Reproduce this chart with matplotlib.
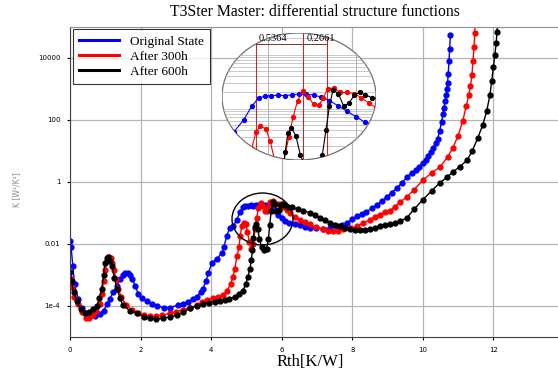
import numpy as np
import matplotlib
matplotlib.use('Agg')
import matplotlib.pyplot as plt
from matplotlib.patches import Ellipse
from matplotlib.lines import Line2D
from matplotlib.ticker import NullLocator

# values; y given as log10 exponents
blue_x = [0.0, 0.03, 0.08, 0.13, 0.23, 0.33, 0.42, 0.55, 0.71, 0.85, 0.95, 1.05, 1.13, 1.23, 1.33,
          1.42, 1.5, 1.56, 1.64, 1.7, 1.76, 1.85, 1.93, 2.05, 2.18, 2.32, 2.46, 2.65, 2.83, 3.06,
          3.2, 3.34, 3.48, 3.6, 3.7, 3.77, 3.85, 3.92, 4.02, 4.16, 4.3, 4.36, 4.44, 4.53, 4.62,
          4.73, 4.82, 4.9, 4.97, 5.04, 5.12, 5.2, 5.28, 5.36, 5.44, 5.52, 5.6, 5.7, 5.8, 5.9,
          6.0, 6.1, 6.2, 6.37, 6.52, 6.66, 6.8, 6.98, 7.17, 7.36, 7.56, 7.7, 7.85, 8.0, 8.13,
          8.27, 8.4, 8.55, 8.7, 8.84, 8.98, 9.12, 9.26, 9.4, 9.55, 9.68, 9.8, 9.9, 10.0, 10.08,
          10.15, 10.22, 10.3, 10.36, 10.42, 10.48, 10.53, 10.57, 10.6, 10.63, 10.66, 10.68, 10.7,
          10.72, 10.74, 10.76, 10.78]
blue_exp = [-1.9, -2.1, -2.7, -3.3, -3.76, -4.05, -4.24, -4.33, -4.33, -4.25, -4.15, -3.95, -3.76,
            -3.55, -3.34, -3.12, -3.0, -2.93, -2.93, -3.0, -3.12, -3.35, -3.6, -3.75, -3.85, -3.95,
            -4.0, -4.05, -4.05, -3.97, -3.92, -3.86, -3.78, -3.7, -3.55, -3.44, -3.2, -2.95, -2.6,
            -2.48, -2.3, -2.1, -1.75, -1.47, -1.43, -1.21, -0.96, -0.8, -0.77, -0.76, -0.75, -0.76,
            -0.74, -0.73, -0.73, -0.75, -0.78, -0.85, -0.95, -1.05, -1.15, -1.25, -1.31, -1.37,
            -1.4, -1.44, -1.47, -1.49, -1.5, -1.48, -1.43, -1.38, -1.31, -1.2, -1.11, -1.04, -0.96,
            -0.85, -0.73, -0.61, -0.48, -0.34, -0.2, -0.03, 0.16, 0.3, 0.4, 0.5, 0.6, 0.72, 0.85,
            0.97, 1.1, 1.25, 1.4, 1.66, 1.95, 2.2, 2.4, 2.6, 2.8, 3.0, 3.2, 3.5, 3.9, 4.3, 4.75]

red_x = [0.0, 0.05, 0.12, 0.22, 0.33, 0.45, 0.55, 0.65, 0.75, 0.85, 0.9, 0.95, 1.0, 1.05, 1.1,
         1.15, 1.2, 1.25, 1.3, 1.37, 1.45, 1.6, 1.75, 1.93, 2.1, 2.27, 2.45, 2.62, 2.83, 3.0,
         3.2, 3.4, 3.6, 3.75, 3.88, 4.05, 4.2, 4.33, 4.45, 4.55, 4.62, 4.67, 4.73, 4.79, 4.82,
         4.87, 4.92, 4.98, 5.03, 5.08, 5.13, 5.18, 5.24, 5.29, 5.34, 5.4, 5.46, 5.52, 5.58, 5.63,
         5.68, 5.75, 5.82, 5.9, 5.98, 6.06, 6.15, 6.23, 6.37, 6.52, 6.66, 6.8, 6.98, 7.17, 7.3,
         7.45, 7.6, 7.73, 7.93, 8.13, 8.3, 8.5, 8.65, 8.78, 8.92, 9.07, 9.2, 9.35, 9.55, 9.75,
         10.0, 10.25, 10.48, 10.7, 10.85, 11.0, 11.13, 11.23, 11.3, 11.35, 11.39, 11.42, 11.45,
         11.47, 11.49]
red_exp = [-3.1, -3.4, -3.7, -3.95, -4.2, -4.38, -4.4, -4.3, -4.15, -3.95, -3.6, -3.2, -2.85, -2.55,
           -2.43, -2.45, -2.6, -2.85, -3.12, -3.45, -3.7, -3.98, -4.12, -4.24, -4.3, -4.33, -4.33,
           -4.3, -4.24, -4.18, -4.12, -4.05, -3.98, -3.88, -3.8, -3.75, -3.72, -3.66, -3.5, -3.3,
           -3.05, -2.8, -2.4, -2.1, -1.75, -1.43, -1.33, -1.37, -1.6, -1.95, -2.15, -2.0, -1.53,
           -1.15, -0.85, -0.68, -0.78, -0.92, -0.94, -0.8, -0.63, -0.62, -0.7, -0.7, -0.72, -0.8,
           -0.9, -0.99, -1.12, -1.21, -1.3, -1.37, -1.46, -1.53, -1.57, -1.59, -1.57, -1.53, -1.48,
           -1.43, -1.33, -1.21, -1.12, -1.05, -0.97, -0.92, -0.8, -0.65, -0.48, -0.25, 0.06, 0.3,
           0.48, 0.8, 1.1, 1.5, 1.97, 2.45, 2.8, 3.1, 3.45, 3.9, 4.35, 4.8, 5.2]

black_x = [0.0, 0.05, 0.1, 0.2, 0.3, 0.42, 0.55, 0.66, 0.76, 0.83, 0.9, 0.95, 0.99, 1.04, 1.08,
           1.13, 1.19, 1.26, 1.33, 1.42, 1.5, 1.7, 1.9, 2.1, 2.27, 2.45, 2.63, 2.83, 3.03, 3.2,
           3.4, 3.6, 3.77, 3.95, 4.1, 4.25, 4.39, 4.52, 4.67, 4.8, 4.9, 4.98, 5.04, 5.1, 5.14,
           5.17, 5.2, 5.23, 5.27, 5.32, 5.37, 5.43, 5.5, 5.57, 5.62, 5.66, 5.7, 5.74, 5.8, 5.86,
           5.92, 5.98, 6.04, 6.1, 6.18, 6.3, 6.45, 6.6, 6.8, 6.95, 7.08, 7.22, 7.37, 7.5, 7.65,
           7.8, 7.93, 8.08, 8.22, 8.36, 8.5, 8.65, 8.78, 8.92, 9.07, 9.2, 9.35, 9.55, 9.75, 10.0,
           10.25, 10.48, 10.68, 10.85, 11.05, 11.25, 11.4, 11.56, 11.7, 11.81, 11.9, 11.95, 12.0,
           12.04, 12.08, 12.1, 12.12]
black_exp = [-2.9, -3.2, -3.54, -3.85, -4.1, -4.24, -4.2, -4.1, -4.0, -3.75, -3.44, -3.0, -2.6,
             -2.45, -2.43, -2.55, -2.72, -3.1, -3.44, -3.75, -3.98, -4.15, -4.24, -4.35, -4.4,
             -4.42, -4.4, -4.35, -4.3, -4.2, -4.08, -4.0, -3.95, -3.9, -3.86, -3.84, -3.82, -3.77,
             -3.7, -3.6, -3.5, -3.3, -3.06, -2.8, -2.5, -2.2, -1.8, -1.45, -1.35, -1.5, -1.85, -2.1,
             -2.2, -2.15, -1.85, -1.4, -0.95, -0.65, -0.72, -0.95, -0.9, -0.75, -0.7, -0.74, -0.8,
             -0.82, -0.87, -0.93, -0.99, -1.07, -1.15, -1.23, -1.31, -1.38, -1.43, -1.49, -1.53,
             -1.55, -1.56, -1.55, -1.53, -1.48, -1.43, -1.4, -1.37, -1.32, -1.27, -1.15, -0.88,
             -0.57, -0.28, -0.03, 0.15, 0.32, 0.5, 0.7, 1.0, 1.43, 1.85, 2.29, 2.8, 3.25, 3.7, 4.1,
             4.5, 4.84, 5.2]

labels = ['Original State', 'After 300h', 'After 600h']
colors = ['#0000ff', '#ff0000', '#000000']
xticks = [0, 2, 4, 6, 8, 10, 12]
yticks = [1e-4, 1e-2, 1, 1e2, 1e4]
ytick_labels = ['1e-4', '0.01', '1', '100', '10000']
gaps = [0.5364, 0.2661]
gap_start = 4.87

series = [(blue_x, blue_exp), (red_x, red_exp), (black_x, black_exp)]

fig = plt.figure(figsize=(5.58, 3.76), dpi=100)
ax = fig.add_axes([70/558, 39/376, 494/558, 310/376])

for (xs, es), c, lab in zip(series, colors, labels):
    ax.plot(xs, 10.0 ** np.array(es), color=c, lw=1.0, marker='o', ms=3.5, label=lab)

ax.set_yscale('log')
ax.set_xlim(0, 14)
ax.set_ylim(1e-5, 1e5)
ax.set_xticks(xticks)
ax.set_yticks(yticks, ytick_labels)
ax.yaxis.set_minor_locator(NullLocator())
ax.grid(color='#b4b4b4', lw=0.9)
ax.set_axisbelow(True)
ax.tick_params(labelsize=5, length=2, pad=5)
ax.spines['right'].set_visible(False)
ax.spines['top'].set_color('#909090')
ax.spines['left'].set_color('#404040')
ax.spines['bottom'].set_color('#404040')

handles = [Line2D([], [], color=c, lw=2.2) for c in colors]
leg = ax.legend(handles, labels, loc='upper left', bbox_to_anchor=(0.003, 0.997),
                prop={'family': 'Liberation Serif', 'size': 9.5}, frameon=True, fancybox=False,
                edgecolor='black', handlelength=3.0, borderaxespad=0.1, labelspacing=0.2,
                borderpad=0.5)
leg.get_frame().set_linewidth(0.8)

ax.add_patch(Ellipse((0.3897, 0.3806), 0.1235, 0.1677, transform=ax.transAxes,
                     fill=False, ec='black', lw=1.0, zorder=6))

fig.text(315/558, 1 - 12/376, 'T3Ster Master: differential structure functions',
         ha='center', va='center', family='Liberation Serif', fontsize=11.3)
fig.text(310/558, 1 - 362/376, 'Rth[K/W]', ha='center', va='center',
         family='Liberation Serif', fontsize=12)
fig.text(17/558, 1 - 190/376, 'K [W²/K²]', ha='center', va='center', rotation=90,
         color='#8a8a8a', fontsize=5.5)

# magnified view inside the ellipse
ins = fig.add_axes([222/558, 1 - 160/376, 154/558, 127/376])
ins.axis('off')
ins.set_yscale('log')
x0 = gap_start - (256 - 222) / 88.5
x1 = gap_start + (376 - 256) / 88.5
ins.set_xlim(x0, x1)
ins.set_ylim(10 ** -1.95, 10 ** 0.4)
bg = Ellipse((0.5, 0.5), 1.0, 1.0, transform=ins.transAxes, fc='white', ec='#707070', lw=0.9,
             zorder=0)
ins.add_patch(bg)

grid_y = [m * 10.0 ** d for d in (-2, -1, 0) for m in range(1, 10)]
for gy in grid_y:
    ln = ins.axhline(gy, color='#c0c0c0', lw=0.6, zorder=1)
    ln.set_clip_path(bg)
for gx in (5, 6):
    ln = ins.axvline(gx, color='#b0b0b0', lw=0.7, zorder=1)
    ln.set_clip_path(bg)

marks = [gap_start, gap_start + gaps[0], gap_start + gaps[0] + gaps[1]]
for mx in marks:
    ln = ins.axvline(mx, color='#b03030', lw=0.8, zorder=2)
    ln.set_clip_path(bg)

for (xs, es), c in zip(series, colors):
    ln, = ins.plot(xs, 10.0 ** np.array(es), color=c, lw=0.8, marker='o', ms=2.8, zorder=3)
    ln.set_clip_path(bg)

top_y = 10 ** 0.2
ins.plot([marks[0], marks[2]], [top_y, top_y], color='#803030', lw=0.7, zorder=4)
for i, g in enumerate(gaps):
    ins.text(marks[i] + 0.03, 10 ** 0.22, f'{g:.4f}', ha='left', va='bottom',
             family='Liberation Serif', fontsize=7.5, zorder=5)

fig.savefig('out.png', dpi=100)
